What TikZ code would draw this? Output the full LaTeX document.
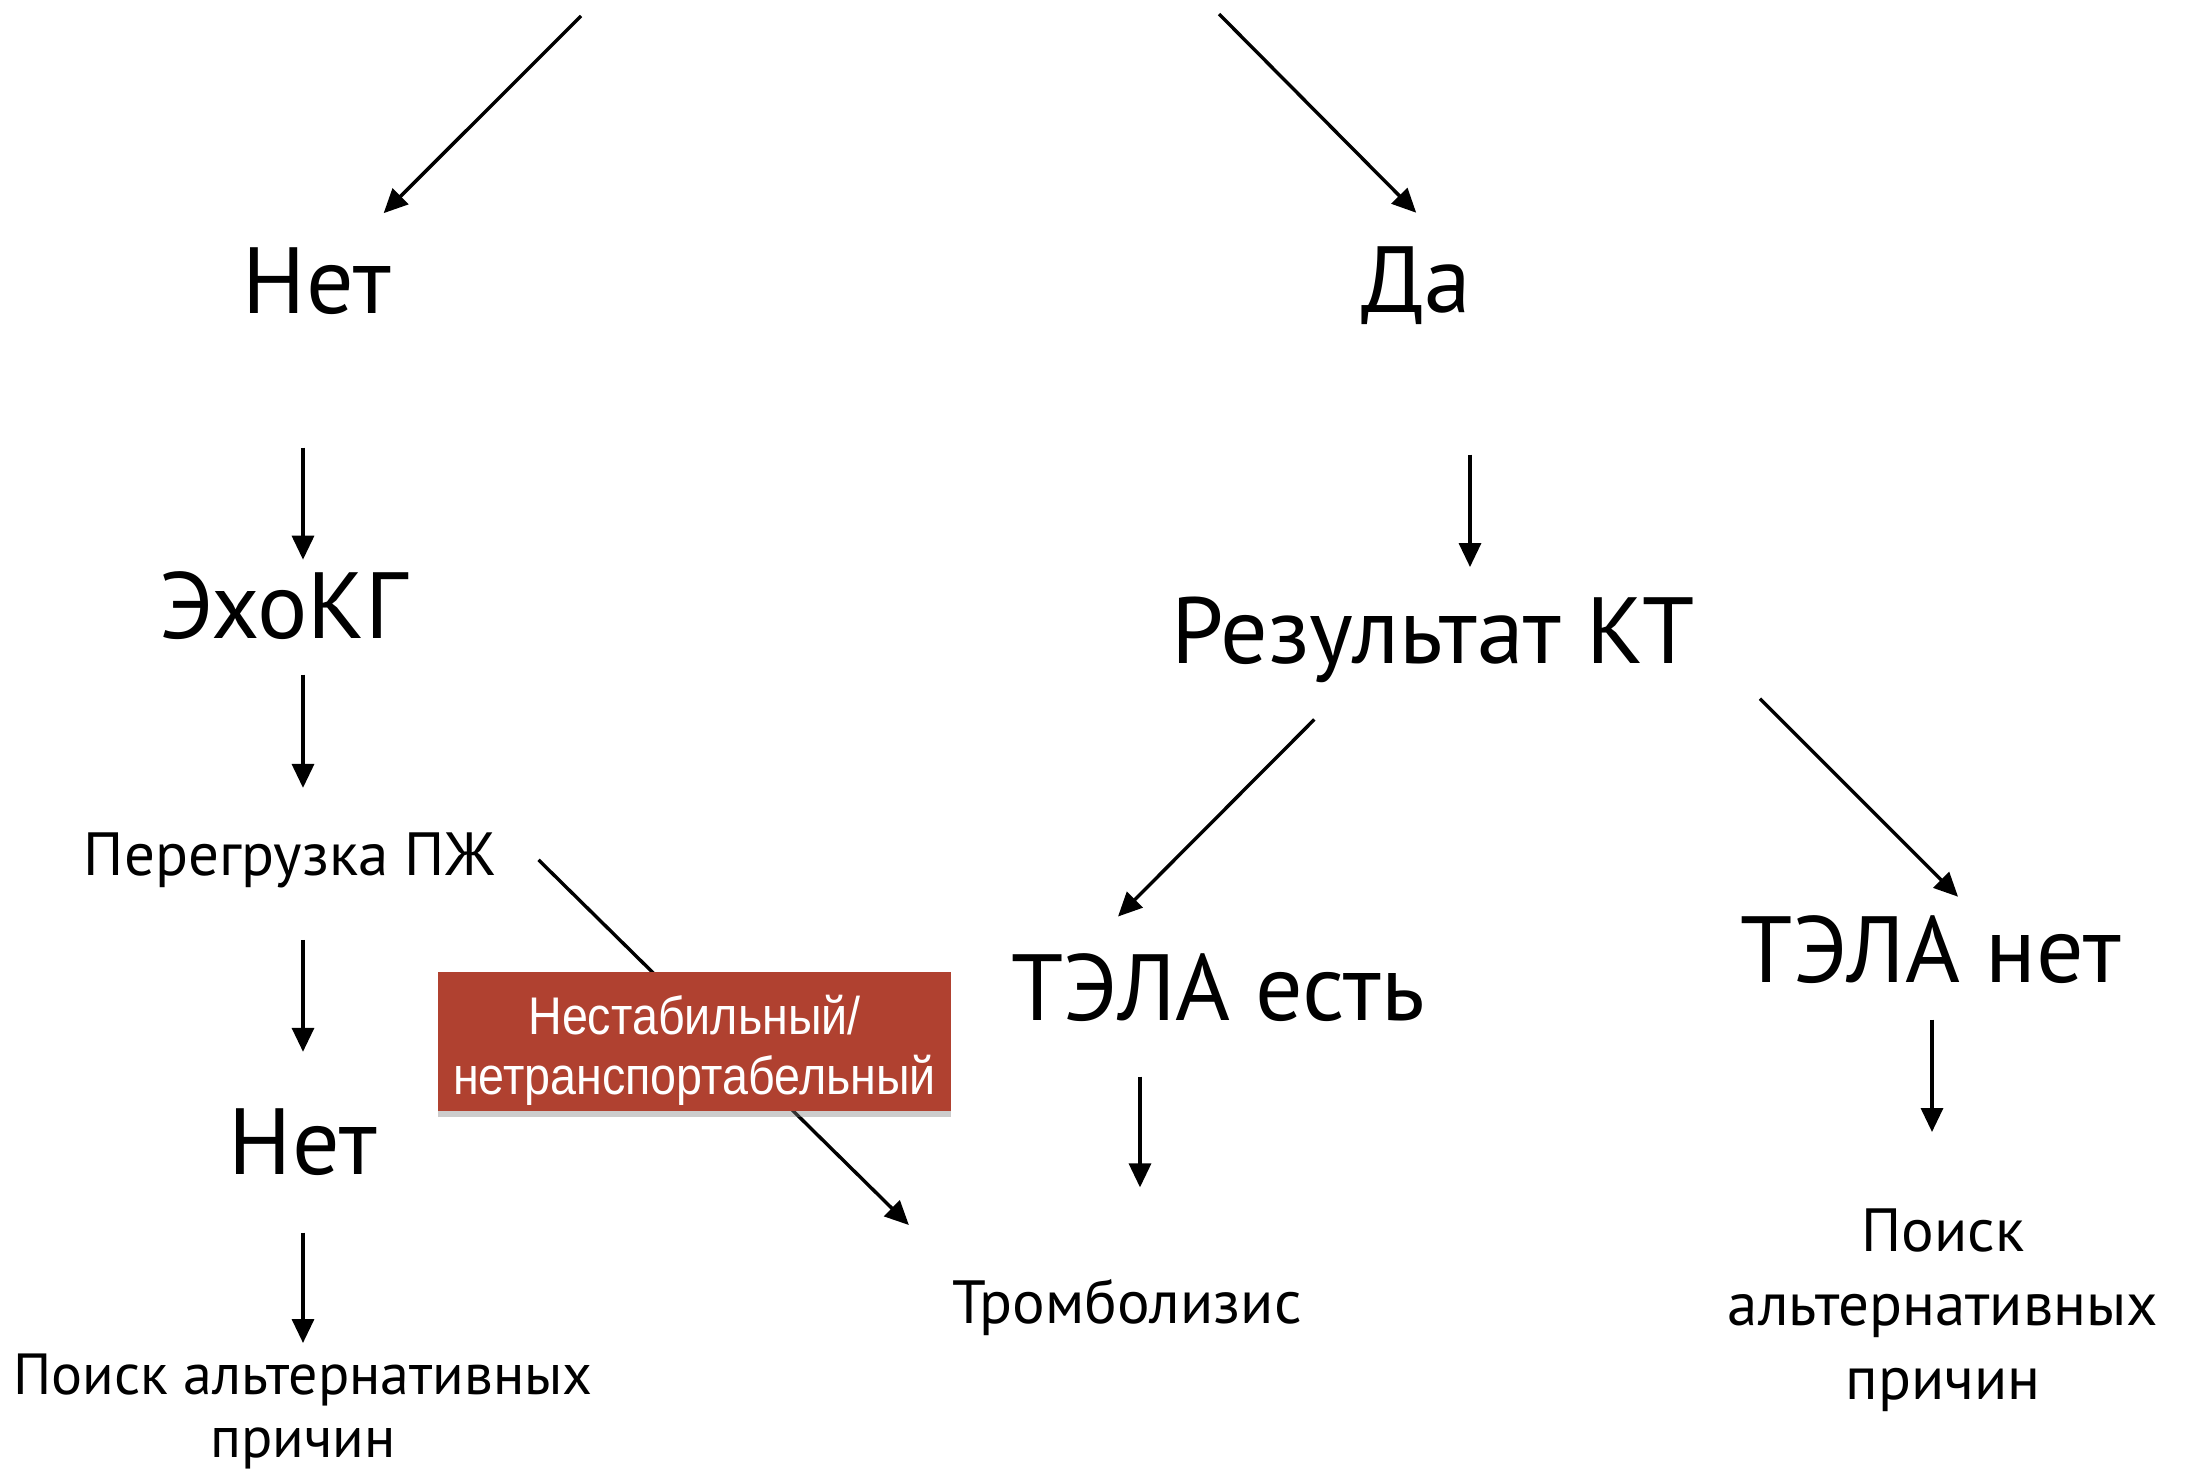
\documentclass[tikz,border=0pt]{standalone}
\usepackage{fontspec}
\setmainfont{PT Sans}
\newfontfamily\boxfont[FakeStretch=0.88]{Liberation Sans}
\usetikzlibrary{arrows.meta,shadows}
\definecolor{boxred}{RGB}{176,65,48}
\tikzset{
  big/.style={font=\fontsize{47}{56}\selectfont, inner sep=0pt, anchor=base},
  mid/.style={font=\fontsize{30.5}{37}\selectfont, inner sep=0pt, anchor=base},
  arr/.style={-{Triangle[length=12pt,width=11pt]}, line width=1.7pt},
  redbox/.style={fill=boxred, text=white, align=center, inner sep=0pt,
    font=\boxfont\fontsize{26.5}{30}\selectfont,
    drop shadow={shadow xshift=0pt, shadow yshift=-3pt, opacity=0.4}}
}
\begin{document}
\begin{tikzpicture}[x=0.5pt, y=-0.5pt]
\useasboundingbox (0,0) rectangle (2191,1471);
\coordinate (tl) at (581,16);
\coordinate (tr) at (1219,14);
\coordinate (lcol) at (303,0);
\coordinate (rcol) at (1470,0);
\coordinate (mcol) at (1140,0);
\coordinate (ecol) at (1932,0);

\node[big] (net1) at (317,314) {Нет};
\node[big] (da) at (1416,313) {Да};
\node[big] (ekg) at (283,638) {ЭхоКГ};
\node[big] (res) at (1433,663) {Результат КТ};
\node[mid] (pzh) at (289,875) {Перегрузка ПЖ};
\node[big] (net2) at (303,1174) {Нет};
\node[big] (tela1) at (1218,1020) {ТЭЛА есть};
\node[big] (tela2) at (1931,982) {ТЭЛА нет};
\node[mid] (tromb) at (1127,1323) {Тромболизис};
\node[mid, anchor=north, align=center, font=\fontsize{29}{31.5}\selectfont] (altL) at (303,1353) {Поиск альтернативных\\причин};
\node[mid, anchor=north, align=center] (altR) at (1943,1208) {Поиск\\альтернативных\\причин};

\draw[arr, shorten >=24.5pt] (tl) -- ([xshift=16pt]net1.north);
\draw[arr, shorten >=24pt] (tr) -- ([xshift=17pt]da.north);
\draw[arr, shorten <=66pt, shorten >=5.5pt] (net1.south -| lcol) -- (ekg.north -| lcol);
\draw[arr, shorten <=17.5pt, shorten >=22pt] (ekg.south -| lcol) -- (pzh.north -| lcol);
\draw[arr, shorten <=26pt, shorten >=28pt] (pzh.south -| lcol) -- (net2.north -| lcol);
\draw[arr, shorten <=28.5pt, shorten >=5pt] (net2.south -| lcol) -- (altL.north -| lcol);
\draw[arr, shorten <=64.5pt, shorten >=14.5pt] (da.south -| rcol) -- (res.north -| rcol);
\draw[arr, shorten <=26pt, shorten >=25.5pt] ([xshift=-41pt]res.south) -- ([xshift=-68pt]tela1.north);
\draw[arr, shorten <=11.3pt, shorten >=12.7pt] ([xshift=155.5pt]res.south) -- ([xshift=22.5pt]tela2.north);
\draw[arr, shorten <=27.5pt, shorten >=45.5pt] (tela1.south -| mcol) -- (tromb.north -| mcol);
\draw[arr, shorten <=18pt, shorten >=38pt] (tela2.south -| ecol) -- (altR.north -| ecol);
\draw[arr, shorten >=38pt] ([xshift=22pt]pzh.east) -- ([xshift=-82pt]tromb.north);

\node[redbox, minimum width=256.5pt, minimum height=69.5pt] (unstable) at (694.5,1041.5) {\rule{0pt}{28.5pt}Нестабильный/\\нетранспортабельный};
\end{tikzpicture}
\end{document}
